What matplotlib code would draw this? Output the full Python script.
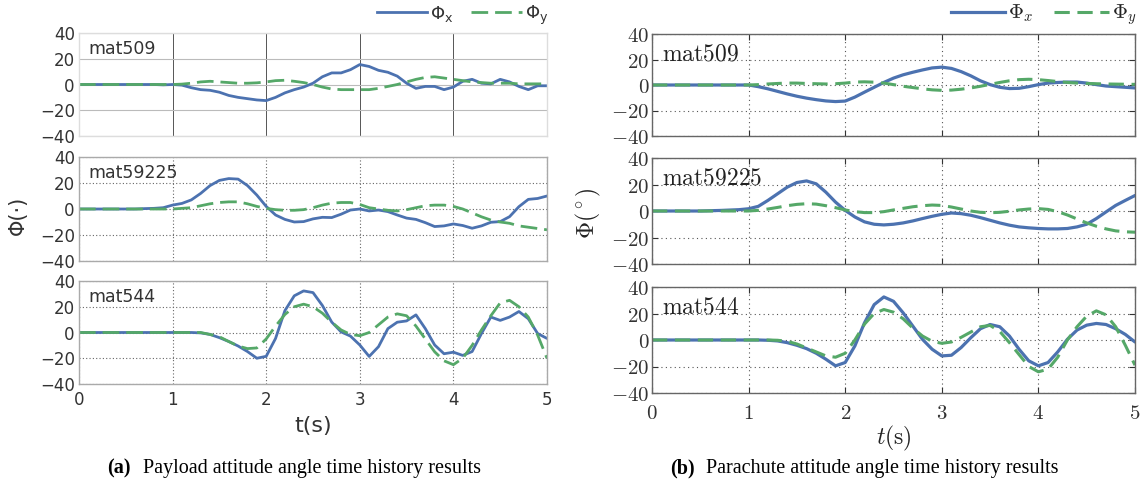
import matplotlib
matplotlib.use("Agg")
import matplotlib.pyplot as plt
from matplotlib.ticker import FuncFormatter, FixedLocator
from matplotlib.lines import Line2D

plt.rcParams['mathtext.fontset'] = 'cm'

# ---------------- data ----------------
t = [round(0.1 * i, 1) for i in range(51)]
cases = ["mat509", "mat59225", "mat544"]

# (a) payload attitude
pay_509_x = [0, 0, 0, 0, 0, 0, 0, 0, 0, -0.3, 0, -0.5, -2.5, -4, -4.5, -6, -8.5, -10, -11, -12,
             -12.5, -10, -6.5, -4, -2, 1, 6, 9, 9, 11.5, 15.5, 14, 11, 9.5, 6.5, 1, -3, -1.5, -1.5, -4,
             -2, 2.5, 4, 1, 0.5, 4, 2, -1.5, -4, -1, -1]
pay_509_y = [0, 0, 0, 0, 0, 0, 0, 0, 0, 0, 0, 0.3, 1, 2, 2.5, 2, 1.5, 1, 1, 1.3,
             2, 3, 3.3, 2.5, 1.5, 0, -2, -3.5, -4, -4, -4, -4, -3, -1.5, 0, 2, 4, 5.5, 6, 5,
             4, 3, 2, 1.5, 1, 1, 1, 0.5, 0.5, 0.5, 0.5]
pay_59225_x = [0, 0, 0, 0, 0, 0, 0, 0.3, 0.5, 1, 3, 4.3, 7, 12, 18, 22, 23.4, 23, 18, 10.7,
               2, -4.6, -8, -10, -9.7, -7.6, -6.4, -6.6, -4, -0.8, 0, -1.5, -0.8, -2, -4.6, -7, -8, -10.5, -13.5, -13,
               -11.5, -12.7, -14.8, -13, -10.2, -9.7, -5.9, 1.8, 7.4, 8.1, 10]
pay_59225_y = [0, 0, 0, 0, 0, 0, 0, 0, 0, 0, 0, 0.5, 1, 2.5, 4, 5, 5.5, 5.5, 4, 2,
               0.5, -0.5, -1, -1, -0.5, 1, 3, 4.5, 5, 5, 3.5, 1, 0, -1, -1.5, -0.5, 1, 2.5, 3, 3,
               2, 0, -3, -6, -8.5, -10, -11, -13, -14, -15, -16]
pay_544_x = [0, 0, 0, 0, 0, 0, 0, 0, 0, 0, 0, 0, 0, -0.3, -1.5, -4, -7, -10.5, -14.8, -20,
             -18.5, -4.6, 17, 28.5, 32.3, 31, 21, 8.1, 0.5, -2.8, -9.7, -18.6, -11, 3, 8, 9, 13.7, 3, -9.7, -16.5,
             -15.3, -17.8, -14.8, -0.8, 12, 9.4, 12, 16.3, 10.7, -0.8, -4.6]
pay_544_y = [0, 0, 0, 0, 0, 0, 0, 0, 0, 0, 0, 0, 0, 0, -1.5, -3.3, -7, -10.5, -12.5, -12,
             -5, 5, 14, 20, 22, 20, 15, 8, 2, -1.5, -2.5, 0, 6, 12, 14.5, 13, 5, -5, -15, -22,
             -25, -20, -10, 2, 13, 23, 25, 20, 12, -2, -20]

# (b) parachute attitude
par_509_x = [0, 0, 0, 0, 0, 0, 0, 0, 0, 0, 0, -1.3, -3, -5, -7, -8.8, -10.3, -11.5, -12.5, -13,
             -12.6, -9.5, -5.6, -1.8, 2, 5.4, 8, 10, 11.8, 13.4, 14, 13, 10.5, 7.2, 3.3, 0.3, -1.8, -2.8, -2.6, -1.3,
             0.3, 1.5, 2, 2.3, 2.3, 1.5, 0.3, -0.8, -1.3, -1.8, -2.3]
par_509_y = [0, 0, 0, 0, 0, 0, 0, 0, 0, 0, 0, 0.3, 0.8, 1.2, 1.5, 1.5, 1.2, 1, 0.8, 1,
             1.5, 2.3, 2.5, 2.2, 1.5, 0.3, -1, -2, -3, -3.8, -4.2, -4, -3.3, -2.3, -1, 0.5, 2, 3.3, 4.2, 4.5,
             4.2, 3.5, 2.7, 2, 1.5, 1.2, 1, 0.8, 0.7, 0.6, 0.5]
par_59225_x = [0, 0, 0, 0, 0, 0, 0.2, 0.4, 0.7, 1, 1.7, 3.5, 8, 13, 18, 21.5, 22.7, 20.5, 14.2, 6.7,
               0.5, -4.5, -8.2, -10, -10.5, -10, -9, -7.5, -5.7, -4, -2.5, -1.5, -2, -3.2, -5, -7, -9, -10.7, -12, -12.7,
               -13.2, -13.5, -13.5, -13.2, -12, -10, -5.7, -0.7, 4.2, 8, 11.7]
par_59225_y = [0, 0, 0, 0, 0, 0, 0, 0, 0, 0, 0, 0.5, 1.5, 2.7, 4, 5, 5.5, 5.2, 4, 2.5,
               0.8, -0.5, -1.2, -1.2, -0.5, 0.8, 2, 3.2, 4, 4.5, 4.2, 3, 1.5, 0, -1, -1.3, -1, -0.2, 0.8, 1.5,
               1.8, 1.2, -0.5, -3, -6, -9, -11.5, -13.5, -15, -15.7, -16]
par_544_x = [0, 0, 0, 0, 0, 0, 0, 0, 0, 0, 0, 0, -0.2, -0.7, -2, -4, -6.5, -10, -14.5, -19.5,
             -17, -4.5, 13, 26.7, 32.5, 29.2, 20.5, 10.5, 0.5, -7, -12, -11.5, -5.7, 1.7, 8.5, 11.7, 10, 3, -7, -15.7,
             -19.5, -17, -9, 0.5, 7.5, 11.2, 12.5, 11.7, 8.5, 4.2, -1.5]
par_544_y = [0, 0, 0, 0, 0, 0, 0, 0, 0, 0, 0, 0, 0, -0.2, -1, -3, -6, -9, -12, -13,
             -10, 0, 12, 20, 23, 21, 16, 9, 3, -1, -2.5, -1.5, 2, 6, 10, 11, 6.5, -2, -11, -20,
             -24, -22, -13, 0, 10, 18, 22, 19, 10, -4, -19]

payload = [(pay_509_x, pay_509_y), (pay_59225_x, pay_59225_y), (pay_544_x, pay_544_y)]
parachute = [(par_509_x, par_509_y), (par_59225_x, par_59225_y), (par_544_x, par_544_y)]

yticks = [-40, -20, 0, 20, 40]
xticks = [0, 1, 2, 3, 4, 5]

# ---------------- figure ----------------
W, H = 1146, 488
fig = plt.figure(figsize=(W / 100, H / 100), dpi=100)

def rect(x0, x1, ytop, ybot):
    return [x0 / W, 1 - ybot / H, (x1 - x0) / W, (ybot - ytop) / H]

BLUE = '#4c72b0'
GREEN = '#55a868'

left_rows = [(33, 136), (157, 261), (281, 384)]
right_rows = [(34, 136), (158, 264), (287, 393)]

# ----- (a) left panel: sans style -----
left_axes = []
for i, (yt, yb) in enumerate(left_rows):
    ax = fig.add_axes(rect(79, 547, yt, yb))
    xs, ys = payload[i]
    ax.plot(t, xs, color=BLUE, lw=2.0, solid_capstyle='round', solid_joinstyle='round')
    ax.plot(t, ys, color=GREEN, lw=2.0, dashes=(6, 2.5))
    ax.set_xlim(0, 5)
    ax.set_ylim(-40, 40)
    ax.yaxis.set_major_locator(FixedLocator(yticks))
    ax.xaxis.set_major_locator(FixedLocator(xticks))
    if i == 0:
        ax.grid(True, color='#555555', lw=0.7, ls='-', axis='x')
        ax.grid(True, color='#bbbbbb', lw=0.8, ls='-', axis='y')
    else:
        ax.grid(True, color='#666666', lw=0.8, ls=(0, (1, 2)))
    for s in ax.spines.values():
        s.set_color('#aaaaaa' if i > 0 else '#dddddd')
        s.set_linewidth(1.0)
    ax.tick_params(length=0, labelsize=12, colors='#333333', pad=3)
    ax.tick_params(axis='x', pad=5)
    ax.yaxis.set_major_formatter(FuncFormatter(lambda v, p: f"{int(v)}".replace('-', '\u2212')))
    if i < 2:
        ax.tick_params(labelbottom=False)
    ax.text(0.02, 0.93, cases[i], transform=ax.transAxes, ha='left', va='top',
            fontsize=12.5, color='#333333', family='DejaVu Sans')
    left_axes.append(ax)

left_axes[2].set_xlabel('t(s)', fontsize=16, color='#333333', labelpad=5)
fig.text(18 / W, 1 - 215 / H, 'Φ(·)', rotation=90, ha='center', va='center',
         fontsize=15, color='#333333', family='DejaVu Sans')

hl = [Line2D([], [], color=BLUE, lw=2.0), Line2D([], [], color=GREEN, lw=2.0, dashes=(6, 2.5))]
leg = left_axes[0].legend(hl, [r'$\Phi_\mathrm{x}$', r'$\Phi_\mathrm{y}$'], ncol=2, frameon=False,
                          loc='center right', bbox_to_anchor=(548 / W, 1 - 15 / H),
                          bbox_transform=fig.transFigure, fontsize=13, handlelength=2.8,
                          handletextpad=0.15, columnspacing=1.0, borderaxespad=0, borderpad=0)
for tx in leg.get_texts():
    tx.set_math_fontfamily('dejavusans')
    tx.set_color('#333333')

# ----- (b) right panel: LaTeX-like serif style -----
right_axes = []
for i, (yt, yb) in enumerate(right_rows):
    ax = fig.add_axes(rect(652, 1135, yt, yb))
    xs, ys = parachute[i]
    ax.plot(t, xs, color=BLUE, lw=2.3, solid_capstyle='round', solid_joinstyle='round')
    ax.plot(t, ys, color=GREEN, lw=2.2, dashes=(5, 2.5))
    ax.set_xlim(0, 5)
    ax.set_ylim(-40, 40)
    ax.yaxis.set_major_locator(FixedLocator(yticks))
    ax.xaxis.set_major_locator(FixedLocator(xticks))
    ax.grid(True, color='#555555', lw=0.8, ls=(0, (1, 3)))
    for s in ax.spines.values():
        s.set_color('#666666')
        s.set_linewidth(1.0)
    ax.tick_params(direction='in', length=4, width=0.8, colors='#333333', labelsize=15, pad=2,
                   top=True, right=True)
    ax.tick_params(axis='x', pad=7)
    ax.yaxis.set_major_formatter(FuncFormatter(lambda v, p: r'$%d$' % int(v)))
    ax.xaxis.set_major_formatter(FuncFormatter(lambda v, p: r'$%d$' % int(v)))
    if i < 2:
        ax.tick_params(labelbottom=False)
    ax.text(0.02, 0.93, r'$\mathrm{%s}$' % cases[i], transform=ax.transAxes, ha='left', va='top',
            fontsize=17, color='#222222')
    right_axes.append(ax)

right_axes[2].set_xlabel(r'$t(\mathrm{s})$', fontsize=17, color='#222222', labelpad=1)
fig.text(588 / W, 1 - 213 / H, r'$\Phi(^\circ)$', rotation=90, ha='center', va='center',
         fontsize=17, color='#222222')

hr = [Line2D([], [], color=BLUE, lw=2.3), Line2D([], [], color=GREEN, lw=2.2, dashes=(5, 2.5))]
leg2 = right_axes[0].legend(hr, [r'$\Phi_x$', r'$\Phi_y$'], ncol=2, frameon=False,
                            loc='center right', bbox_to_anchor=(1137 / W, 1 - 15 / H),
                            bbox_transform=fig.transFigure, fontsize=15, handlelength=2.6,
                            handletextpad=0.15, columnspacing=1.0, borderaxespad=0, borderpad=0)
for tx in leg2.get_texts():
    tx.set_color('#222222')

# ----- captions -----
cap_y = 1 - 468 / H
fig.text(107 / W, cap_y, '(a)', ha='left', va='center', fontsize=14.5, fontweight='bold',
         family='Liberation Serif')
fig.text(143 / W, cap_y, 'Payload attitude angle time history results', ha='left', va='center',
         fontsize=14.5, family='Liberation Serif')
fig.text(670 / W, cap_y, '(b)', ha='left', va='center', fontsize=14.5, fontweight='bold',
         family='Liberation Serif')
fig.text(706 / W, cap_y, 'Parachute attitude angle time history results', ha='left', va='center',
         fontsize=14.5, family='Liberation Serif')

fig.savefig('out.png', dpi=100)
